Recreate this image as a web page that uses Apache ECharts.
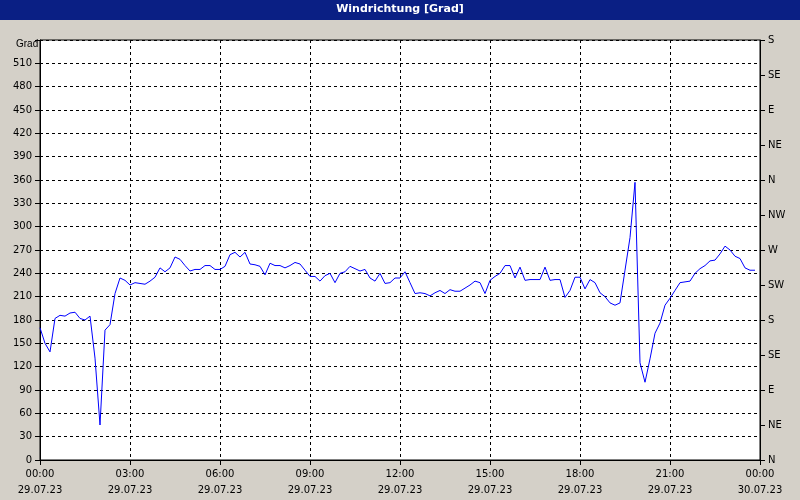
<!DOCTYPE html>
<html><head><meta charset="utf-8">
<script src="https://cdn.jsdelivr.net/npm/echarts@6/dist/echarts.min.js"></script>
<style>html,body{margin:0;padding:0;background:#d4d0c8}#c{width:800px;height:500px}</style>
</head><body><div id="c"></div>
<script>
const title = "Windrichtung [Grad]";
const stepMinutes = 10;
const values = [
170,150,139,182,186,185,189,190,182,180,185,131,
45,167,174,214,234,231,225,228,227,226,230,235,
247,242,247,261,258,250,243,245,245,250,250,245,
245,249,264,267,261,267,252,251,249,238,253,250,
250,247,250,254,252,244,236,236,230,237,240,228,
240,242,249,246,243,245,234,230,240,227,228,234,
234,242,228,214,215,214,211,215,218,214,219,217,
217,221,225,230,228,214,231,236,240,250,250,234,
248,231,232,232,232,248,231,232,232,209,218,235,
235,220,232,228,215,210,202,199,202,244,286,357,
125,100,130,163,176,199,208,218,228,229,230,240,
246,250,256,257,265,275,270,262,259,247,244,244];
const xTimeLabels = ["00:00","03:00","06:00","09:00","12:00","15:00","18:00","21:00","00:00"];
const xDateLabels = ["29.07.23","29.07.23","29.07.23","29.07.23","29.07.23","29.07.23","29.07.23","29.07.23","30.07.23"];
const compass = ["N","NE","E","SE","S","SW","W","NW","N","NE","E","SE","S"];

const data = values.map((v,i)=>[i*stepMinutes, v]);
const chart = echarts.init(document.getElementById('c'));
const font = {fontFamily:'DejaVu Sans', fontSize:10, color:'#000'};
chart.setOption({
  backgroundColor:'#d4d0c8',
  animation:false,
  graphic:[
    {type:'rect', shape:{x:0,y:0,width:800,height:20}, style:{fill:'#0a1f84'}},
    {type:'text', left:'center', top:4, style:{text:title, fill:'#fff', font:'bold 11px DejaVu Sans'}},
    {type:'text', left:16, top:39, z:100, style:{text:'Grad', fill:'#000', font:'10px Liberation Sans'}}
  ],
  grid:{left:40, right:40, top:40, bottom:40, show:true, backgroundColor:'#fff', borderColor:'#000', borderWidth:1},
  xAxis:{type:'value', min:0, max:1440, interval:180,
    axisLine:{lineStyle:{color:'#000'}}, axisTick:{show:true, lineStyle:{color:'#000'}},
    splitLine:{show:true, lineStyle:{color:'#000', type:[3,3]}},
    axisLabel:{...font, lineHeight:16, margin:6, formatter:(v)=>{const i=Math.round(v/180);return xTimeLabels[i]+'\n'+xDateLabels[i];}}},
  yAxis:[
    {type:'value', min:0, max:540, interval:30, position:'left',
     axisLine:{show:true,lineStyle:{color:'#000'}}, axisTick:{show:true,lineStyle:{color:'#000'}},
     splitLine:{show:true, lineStyle:{color:'#000', type:[3,3]}},
     axisLabel:{...font, formatter:(v)=>v>=540?'':String(v)}},
    {type:'value', min:0, max:540, interval:45, position:'right',
     axisLine:{show:true,lineStyle:{color:'#000'}}, axisTick:{show:true,lineStyle:{color:'#000'}},
     splitLine:{show:false},
     axisLabel:{...font, formatter:(v)=>compass[Math.round(v/45)]}}
  ],
  series:[{type:'line', data:data, showSymbol:false, lineStyle:{color:'#0000ff', width:1}}]
});
</script></body></html>
